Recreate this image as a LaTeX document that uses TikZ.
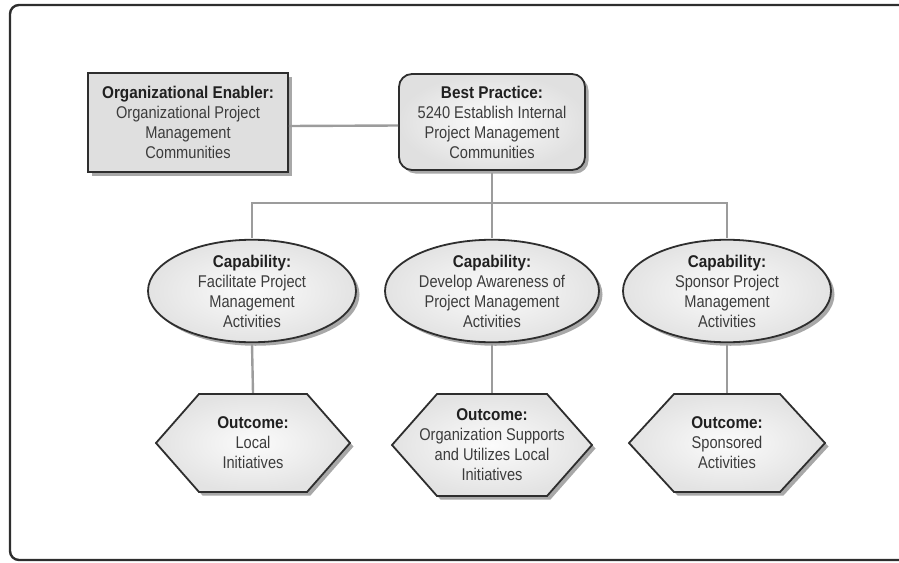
\documentclass[tikz,border=0pt]{standalone}
\usepackage{fontspec}
\setmainfont{Liberation Sans}[FakeStretch=0.86, BoldFeatures={FakeStretch=0.9}]
\usetikzlibrary{shapes.geometric,shadows,calc}
\definecolor{edge}{HTML}{2E2E2E}
\definecolor{wire}{HTML}{9C9C9C}
\definecolor{titletext}{HTML}{202020}
\definecolor{bodytext}{HTML}{3C3C3C}
\definecolor{flatfill}{HTML}{DFDFDF}
\definecolor{shadowgray}{HTML}{A8A8A8}
\begin{document}
\begin{tikzpicture}[x=1pt,y=-1pt,
  every node/.style={align=center, inner sep=0pt, text=bodytext,
    font=\fontsize{17}{20}\selectfont},
  shapeline/.style={draw=edge, line width=1.8pt},
  dshadow/.style={drop shadow={shadow xshift=3.5pt, shadow yshift=-3.5pt,
    fill=shadowgray, opacity=1}},
  enablerbox/.style={shapeline, dshadow, rectangle, fill=flatfill,
    minimum width=200pt, minimum height=99pt},
  practicebox/.style={shapeline, dshadow, rectangle, rounded corners=13pt,
    inner color=gray!2, outer color=gray!24,
    minimum width=186pt, minimum height=96pt},
  capnode/.style={shapeline, dshadow, ellipse, inner color=gray!3,
    outer color=gray!22, minimum width=208pt, minimum height=98pt},
  outnode/.style={minimum width=196pt, minimum height=98pt},
  hexfill/.style={shapeline, inner color=gray!3, outer color=gray!22},
  link/.style={draw=wire, line width=2.4pt}
]
\useasboundingbox (0,0) rectangle (899,562);
\begin{scope}
  \clip (0,0) rectangle (899,562);
  % outer frame, open to the right
  \draw[draw=edge, line width=2.4pt, rounded corners=9pt] (10,5) rectangle (940,560);
\end{scope}

% top row
\node[enablerbox] (enab) at (188,122.5)
  {{\bfseries\color{titletext}Organizational Enabler:}\\Organizational Project\\Management\\Communities};
\node[practicebox] (best) at (492,122)
  {{\bfseries\color{titletext}Best Practice:}\\5240 Establish Internal\\Project Management\\Communities};

% capabilities
\node[capnode] (cap1) at (252,291)
  {{\bfseries\color{titletext}Capability:}\\Facilitate Project\\Management\\Activities};
\node[capnode, minimum width=214pt] (cap2) at (492,291)
  {{\bfseries\color{titletext}Capability:}\\Develop Awareness of\\Project Management\\Activities};
\node[capnode] (cap3) at (727,291)
  {{\bfseries\color{titletext}Capability:}\\Sponsor Project\\Management\\Activities};

% outcome hexagons with their shadows
\foreach \cx/\cy/\hw/\fw/\hh in {253/443/97/54/49, 492/445/100/55/51, 727/443/98/53/49}{
  \fill[shadowgray] ($(\cx,\cy)+(-\fw+3.5,-\hh+3.5)$) -- ($(\cx,\cy)+(\fw+3.5,-\hh+3.5)$)
    -- ($(\cx,\cy)+(\hw+3.5,3.5)$) -- ($(\cx,\cy)+(\fw+3.5,\hh+3.5)$)
    -- ($(\cx,\cy)+(-\fw+3.5,\hh+3.5)$) -- ($(\cx,\cy)+(-\hw+3.5,3.5)$) -- cycle;
  \path[hexfill] ($(\cx,\cy)+(-\fw,-\hh)$) -- ($(\cx,\cy)+(\fw,-\hh)$)
    -- ($(\cx,\cy)+(\hw,0)$) -- ($(\cx,\cy)+(\fw,\hh)$)
    -- ($(\cx,\cy)+(-\fw,\hh)$) -- ($(\cx,\cy)+(-\hw,0)$) -- cycle;
}
\node[outnode] (out1) at (253,443)
  {{\bfseries\color{titletext}Outcome:}\\Local\\Initiatives};
\node[outnode, minimum height=102pt] (out2) at (492,445)
  {{\bfseries\color{titletext}Outcome:}\\Organization Supports\\and Utilizes Local\\Initiatives};
\node[outnode] (out3) at (727,443)
  {{\bfseries\color{titletext}Outcome:}\\Sponsored\\Activities};

% connectors
\coordinate (bus) at (492,203);
\path[link] ([yshift=-3.5pt]enab.east) -- ([yshift=-3.5pt]best.west);
\path[link] ([yshift=-2pt]best.south) -- (bus);
\path[link] ([yshift=1pt]cap1.north) |- (bus) -| ([yshift=1pt]cap3.north);
\path[link] (bus) -- ([yshift=1pt]cap2.north);
\path[link] ([yshift=-1pt]cap1.south) -- ([yshift=1pt]out1.north);
\path[link] ([yshift=-1pt]cap2.south) -- ([yshift=1pt]out2.north);
\path[link] ([yshift=-1pt]cap3.south) -- ([yshift=1pt]out3.north);
\end{tikzpicture}
\end{document}
